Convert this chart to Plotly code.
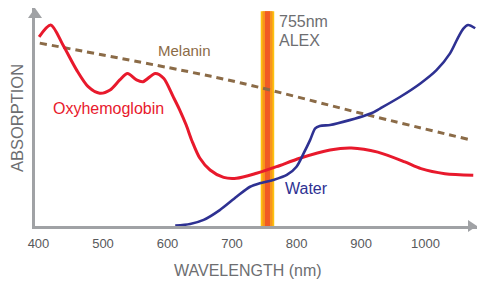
import plotly.graph_objects as go

# ---- data (wavelength nm, relative absorption 0..1) ----
oxy_wl = [401, 419, 438, 459, 477, 495, 511, 526, 538, 552, 562, 581, 594, 609, 619,
          629, 638, 650, 666, 687, 707, 738, 769, 805, 852, 885, 926, 968, 993, 1030, 1074]
oxy_abs = [0.868, 0.922, 0.830, 0.716, 0.639, 0.609, 0.624, 0.670, 0.700, 0.670, 0.662,
           0.700, 0.678, 0.592, 0.532, 0.463, 0.390, 0.312, 0.257, 0.223, 0.219, 0.242,
           0.272, 0.311, 0.349, 0.358, 0.339, 0.294, 0.263, 0.240, 0.233]

water_wl = [612, 635, 656, 681, 707, 728, 743, 764, 785, 800, 811, 821, 829, 836, 852,
            864, 916, 930, 961, 992, 1017, 1038, 1051, 1059, 1066, 1077]
water_abs = [0.002, 0.009, 0.028, 0.073, 0.134, 0.180, 0.196, 0.211, 0.234, 0.272, 0.333,
             0.394, 0.448, 0.459, 0.463, 0.471, 0.517, 0.540, 0.593, 0.654, 0.715, 0.792,
             0.868, 0.907, 0.922, 0.907]

melanin_wl = [402, 619, 714, 911, 1071]
melanin_abs = [0.839, 0.716, 0.656, 0.509, 0.394]

laser_wl = 755
laser_span = [0.0, 0.985]

tick_vals = [400, 500, 600, 700, 800, 900, 1000]
tick_text = ["400", "500", "600", "700", "800", "900", "1000"]

X_RANGE = [394.6, 1079.8]
Y_RANGE = [0, 1]

FONT = "Liberation Sans, Arial, sans-serif"
GRAY = "#6d6e71"
AXIS_GRAY = "#a0a2a5"
RED = "#e8192c"
BLUE = "#2e3192"
BROWN = "#8b6b47"

fig = go.Figure()

# laser bar (layered to fake the yellow-orange gradient)
for w, c in [(13.5, "#fcc10f"), (10, "#f7941d"), (5, "#f15a24")]:
    fig.add_trace(go.Scatter(x=[laser_wl, laser_wl], y=laser_span, mode="lines",
                             line=dict(color=c, width=w), hoverinfo="skip", showlegend=False))

fig.add_trace(go.Scatter(x=melanin_wl, y=melanin_abs, mode="lines",
                         line=dict(color=BROWN, width=3, dash="7px,5px", shape="spline"),
                         showlegend=False))
fig.add_trace(go.Scatter(x=oxy_wl, y=oxy_abs, mode="lines",
                         line=dict(color=RED, width=3, shape="spline", smoothing=0.8),
                         showlegend=False))
fig.add_trace(go.Scatter(x=water_wl, y=water_abs, mode="lines",
                         line=dict(color=BLUE, width=2.6, shape="spline", smoothing=0.8),
                         showlegend=False))

annotations = [
    dict(x=627, y=0.805, xref="x", yref="y", text="Melanin", showarrow=False,
         xanchor="center", yanchor="middle", font=dict(family=FONT, size=15, color=BROWN)),
    dict(x=509, y=0.537, xref="x", yref="y", text="Oxyhemoglobin", showarrow=False,
         xanchor="center", yanchor="middle", font=dict(family=FONT, size=16, color=RED)),
    dict(x=816, y=0.170, xref="x", yref="y", text="Water", showarrow=False,
         xanchor="center", yanchor="middle", font=dict(family=FONT, size=16, color=BLUE)),
    dict(x=770, y=0.936, xref="x", yref="y", text="755nm", showarrow=False,
         xanchor="left", yanchor="middle", font=dict(family=FONT, size=16, color=GRAY)),
    dict(x=770, y=0.853, xref="x", yref="y", text="ALEX", showarrow=False,
         xanchor="left", yanchor="middle", font=dict(family=FONT, size=16, color=GRAY)),
    dict(x=0.483, y=-0.202, xref="paper", yref="paper", text="WAVELENGTH (nm)",
         showarrow=False, xanchor="center", yanchor="middle",
         font=dict(family=FONT, size=16, color=GRAY)),
    dict(x=-0.0407, y=0.495, xref="paper", yref="paper", text="ABSORPTION",
         showarrow=False, textangle=-90, xanchor="center", yanchor="middle",
         font=dict(family=FONT, size=16.5, color=GRAY)),
]

# arrowheads on the axes
W_PX, H_PX = 442.0, 218.0
shapes = [
    dict(type="path", xref="paper", yref="paper", line=dict(width=0), fillcolor=AXIS_GRAY,
         path=f"M {-7/W_PX} {1 - 10/H_PX} L 0 1 L {7/W_PX} {1 - 10/H_PX} Z"),
    dict(type="path", xref="paper", yref="paper", line=dict(width=0), fillcolor=AXIS_GRAY,
         path=f"M {1 - 9/W_PX} {6/H_PX} L 1 0 L {1 - 9/W_PX} {-6/H_PX} Z"),
]

fig.update_layout(
    width=478, height=284,
    margin=dict(l=35, r=1, t=8, b=58),
    paper_bgcolor="white", plot_bgcolor="white",
    annotations=annotations, shapes=shapes,
    xaxis=dict(range=X_RANGE, showgrid=False, zeroline=False, showline=True,
               linecolor=AXIS_GRAY, linewidth=3, tickvals=tick_vals, ticktext=tick_text,
               ticks="outside", ticklen=3, tickcolor="rgba(0,0,0,0)",
               tickfont=dict(family=FONT, size=13, color="#58595b")),
    yaxis=dict(range=Y_RANGE, showgrid=False, zeroline=False, showline=True,
               linecolor=AXIS_GRAY, linewidth=3, showticklabels=False, ticks=""),
)

fig.write_html("out.html", config={"displayModeBar": False},
               post_script="document.body.style.margin='0';document.body.style.overflow='hidden';")
